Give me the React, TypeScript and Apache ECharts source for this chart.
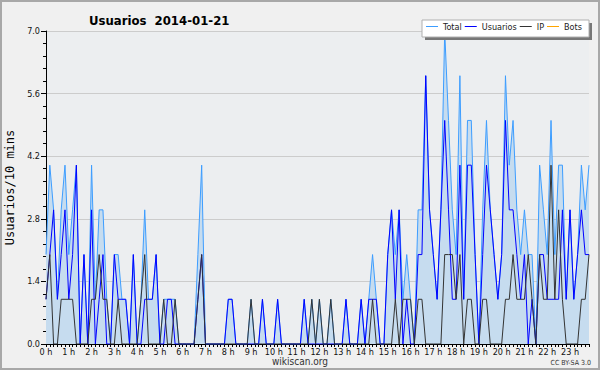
import React, { useEffect, useRef } from "react";
import * as echarts from "echarts";

// 10-minute slots over the day (144 points)
const hourLabels = [
  "0 h", "1 h", "2 h", "3 h", "4 h", "5 h", "6 h", "7 h", "8 h", "9 h", "10 h", "11 h",
  "12 h", "13 h", "14 h", "15 h", "16 h", "17 h", "18 h", "19 h", "20 h", "21 h", "22 h", "23 h",
];
const categories: string[] = [];
for (let h = 0; h < 24; h++) {
  for (let m = 0; m < 60; m += 10) categories.push(`${h}:${m < 10 ? "0" + m : m}`);
}

const yTicks = [0, 1.4, 2.8, 4.2, 5.6, 7.0];

const total = [
  2, 4, 3, 1, 3, 4, 2, 3, 4, 0, 2, 0,
  4, 1, 3, 3, 1, 0, 2, 2, 1, 1, 0, 2,
  0, 1, 3, 1, 1, 2, 0, 1, 1, 1, 1, 0,
  0, 0, 0, 0, 2, 4, 0, 0, 0, 0, 0, 0,
  1, 1, 0, 0, 0, 0, 1, 0, 0, 1, 0, 0,
  0, 1, 0, 0, 0, 0, 0, 0, 1, 0, 1, 0,
  1, 0, 0, 1, 0, 0, 0, 1, 0, 0, 0, 1,
  0, 1, 2, 1, 0, 0, 2, 3, 2, 3, 1, 2,
  1, 0, 3, 3, 6, 3, 2, 1, 3, 7, 5, 3,
  2, 6, 1, 5, 5, 2, 0, 3, 5, 3, 2, 1,
  2, 6, 4, 5, 3, 2, 3, 2, 2, 0, 4, 3,
  2, 5, 2, 4, 4, 1, 3, 1, 2, 4, 3, 4,
];

const usuarios = [
  1, 2, 3, 1, 2, 3, 1, 2, 4, 0, 2, 0,
  3, 0, 1, 2, 0, 0, 2, 1, 1, 1, 0, 2,
  0, 0, 1, 1, 1, 2, 0, 0, 1, 1, 0, 0,
  0, 0, 0, 0, 1, 2, 0, 0, 0, 0, 0, 0,
  1, 1, 0, 0, 0, 0, 0, 0, 0, 1, 0, 0,
  0, 1, 0, 0, 0, 0, 0, 0, 1, 0, 0, 0,
  0, 0, 0, 0, 0, 0, 0, 1, 0, 0, 0, 1,
  0, 1, 1, 1, 0, 0, 2, 3, 1, 3, 0, 1,
  0, 0, 2, 2, 6, 3, 2, 1, 3, 5, 3, 1,
  1, 4, 1, 4, 4, 2, 0, 2, 4, 3, 2, 1,
  2, 5, 3, 3, 2, 1, 2, 0, 1, 0, 2, 2,
  1, 1, 1, 1, 3, 1, 3, 1, 2, 3, 2, 2,
];

const ip = [
  1, 2, 0, 0, 1, 1, 1, 1, 0, 0, 0, 0,
  1, 1, 2, 1, 1, 0, 0, 1, 0, 0, 0, 0,
  0, 1, 2, 0, 0, 0, 0, 1, 0, 0, 1, 0,
  0, 0, 0, 0, 1, 2, 0, 0, 0, 0, 0, 0,
  0, 0, 0, 0, 0, 0, 1, 0, 0, 0, 0, 0,
  0, 0, 0, 0, 0, 0, 0, 0, 0, 0, 1, 0,
  1, 0, 0, 1, 0, 0, 0, 0, 0, 0, 0, 0,
  0, 0, 1, 0, 0, 0, 0, 0, 1, 0, 1, 1,
  1, 0, 1, 1, 0, 0, 0, 0, 0, 2, 2, 2,
  1, 2, 0, 1, 1, 0, 0, 1, 1, 0, 0, 0,
  0, 1, 1, 2, 1, 1, 1, 2, 1, 0, 2, 1,
  1, 4, 1, 3, 1, 0, 0, 0, 0, 1, 1, 2,
];

const bots: number[] = [];

const FONT = "'DejaVu Sans Condensed', 'Liberation Sans Narrow', 'DejaVu Sans', sans-serif";

export default function App() {
  const ref = useRef<HTMLDivElement>(null);
  useEffect(() => {
    if (!ref.current) return;
    const chart = echarts.init(ref.current, undefined, { renderer: "svg" });
    chart.setOption({
      animation: false,
      backgroundColor: "#f0f0f0",
      title: {
        text: "Usuarios  2014-01-21",
        left: 84,
        top: 9,
        textStyle: { fontFamily: FONT, fontSize: 13, fontWeight: "bold", color: "#000" },
      },
      legend: {
        data: ["Total", "Usuarios", "IP", "Bots"],
        left: 426,
        top: 22,
        padding: 0,
        icon: "rect",
        itemWidth: 12,
        itemHeight: 1,
        itemGap: 3,
        z: 10,
        textStyle: { fontFamily: FONT, fontSize: 9, color: "#222" },
      },
      grid: {
        left: 46,
        right: 11,
        top: 31,
        bottom: 26,
        show: true,
        backgroundColor: "#eceef0",
        borderWidth: 0,
        containLabel: false,
        outerBoundsMode: "none",
      },
      xAxis: {
        type: "category",
        boundaryGap: false,
        data: categories,
        axisLine: { lineStyle: { color: "#000", width: 1 } },
        axisTick: { show: true, interval: 0, length: 3, lineStyle: { color: "#000" } },
        axisLabel: {
          interval: 5,
          margin: 3,
          fontFamily: FONT,
          fontSize: 9,
          color: "#111",
          formatter: (_v: string, i: number) => (i % 6 === 0 ? hourLabels[i / 6] : ""),
        },
        splitLine: { show: false },
      },
      yAxis: {
        type: "value",
        min: yTicks[0],
        max: yTicks[yTicks.length - 1],
        interval: 1.4,
        name: "Usuarios/10 mins",
        nameLocation: "middle",
        nameGap: 30,
        nameTextStyle: { fontFamily: "'DejaVu Sans Mono', monospace", fontSize: 12, color: "#000" },
        axisLine: { show: true, lineStyle: { color: "#000", width: 1 } },
        axisTick: { show: true, length: 5, lineStyle: { color: "#000" } },
        minorTick: { show: true, splitNumber: 5, length: 3, lineStyle: { color: "#000" } },
        axisLabel: {
          margin: 6,
          fontFamily: FONT,
          fontSize: 9,
          color: "#111",
          formatter: (v: number) => v.toFixed(1),
        },
        splitLine: { show: true, lineStyle: { color: "#cccccc", width: 1 } },
      },
      series: [
        {
          name: "Total",
          type: "line",
          data: total,
          symbol: "none",
          z: 2,
          lineStyle: { color: "#3d9dff", width: 1 },
          itemStyle: { color: "#3d9dff" },
          areaStyle: { color: "#c6dcef", opacity: 1 },
        },
        {
          name: "Usuarios",
          type: "line",
          data: usuarios,
          symbol: "none",
          z: 3,
          lineStyle: { color: "#0000ff", width: 1 },
          itemStyle: { color: "#0000ff" },
        },
        {
          name: "IP",
          type: "line",
          data: ip,
          symbol: "none",
          z: 4,
          lineStyle: { color: "#333333", width: 1 },
          itemStyle: { color: "#333333" },
        },
        {
          name: "Bots",
          type: "line",
          data: bots,
          symbol: "none",
          lineStyle: { color: "#ffa500", width: 1 },
          itemStyle: { color: "#ffa500" },
        },
      ],
      graphic: [
        {
          type: "rect",
          z: 0,
          shape: { x: 1, y: 1, width: 598, height: 368 },
          style: { fill: "none", stroke: "#a8a8a8", lineWidth: 2 },
        },
        {
          type: "rect",
          z: 5,
          shape: { x: 425, y: 23, width: 167, height: 17 },
          style: { fill: "#777777" },
        },
        {
          type: "rect",
          z: 6,
          shape: { x: 422, y: 20, width: 167, height: 17 },
          style: { fill: "#ffffff", stroke: "#b0b0b0", lineWidth: 1 },
        },
        {
          type: "text",
          z: 6,
          x: 300,
          y: 361,
          style: {
            text: "wikiscan.org",
            fontFamily: FONT,
            fontSize: 10,
            fill: "#333",
            align: "center",
            verticalAlign: "middle",
          },
        },
        {
          type: "text",
          z: 6,
          x: 591,
          y: 363,
          style: {
            text: "CC BY-SA 3.0",
            fontFamily: FONT,
            fontSize: 7,
            fill: "#333",
            align: "right",
            verticalAlign: "middle",
          },
        },
      ],
    });
    return () => chart.dispose();
  }, []);
  return (
    <div
      ref={ref}
      style={{ position: "fixed", left: 0, top: 0, width: 600, height: 370 }}
    />
  );
}
